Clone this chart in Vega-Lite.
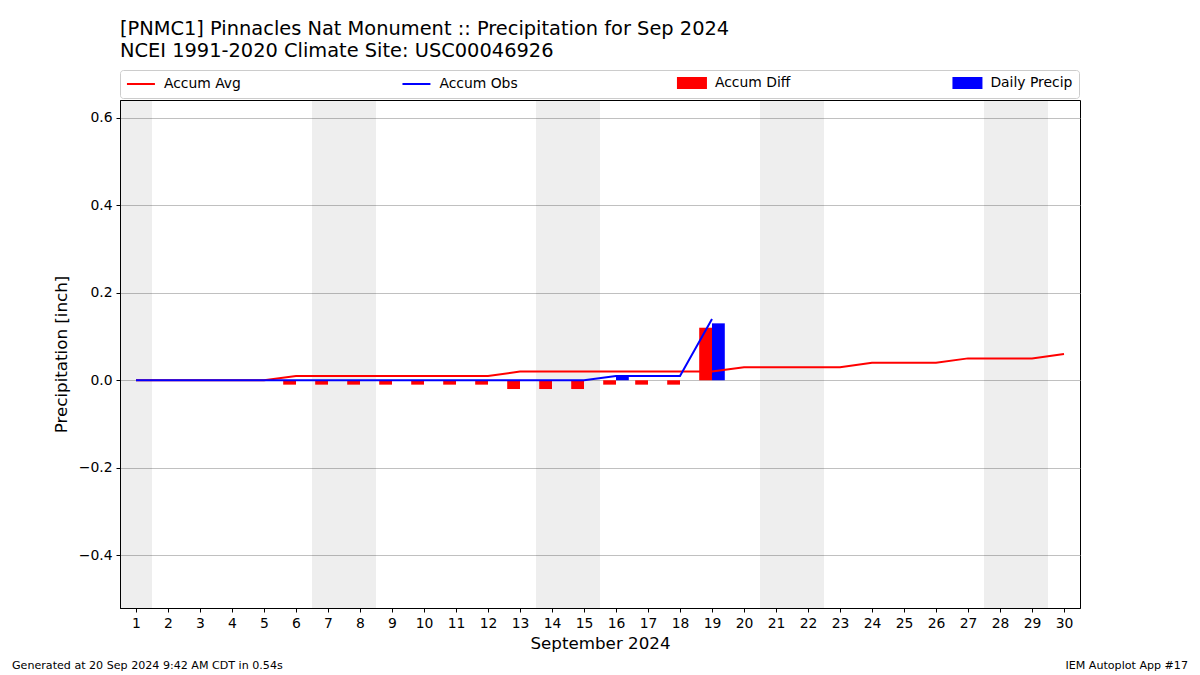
{
  "$schema": "https://vega.github.io/schema/vega-lite/v6.json",
  "width": 960,
  "height": 508,
  "autosize": {"type": "none"},
  "padding": {"left": 120, "top": 100, "right": 120, "bottom": 67},
  "background": "white",
  "config": {
    "font": "DejaVu Sans",
    "view": {"stroke": "black", "strokeWidth": 1},
    "axis": {"labelColor": "black", "titleColor": "black", "domainColor": "black", "tickColor": "black", "tickSize": 4, "labelFontSize": 13.9, "titleFontSize": 16.7, "titleFontWeight": "normal"},
    "axisX": {"labelOverlap": false, "labelFlush": false, "labelBound": false, "grid": false, "labelPadding": 4, "titlePadding": 6}
  },
  "title": {
    "text": ["[PNMC1] Pinnacles Nat Monument :: Precipitation for Sep 2024", "NCEI 1991-2020 Climate Site: USC00046926"],
    "anchor": "start", "frame": "group", "fontSize": 19.4, "fontWeight": "normal", "color": "black", "lineHeight": 22, "offset": 8
  },
  "datasets": {
    "days": [
      {"day": 1, "avg": 0, "obs": 0, "diff": 0, "daily": 0},
      {"day": 2, "avg": 0, "obs": 0, "diff": 0, "daily": 0},
      {"day": 3, "avg": 0, "obs": 0, "diff": 0, "daily": 0},
      {"day": 4, "avg": 0, "obs": 0, "diff": 0, "daily": 0},
      {"day": 5, "avg": 0, "obs": 0, "diff": 0, "daily": 0},
      {"day": 6, "avg": 0.01, "obs": 0, "diff": -0.01, "daily": 0},
      {"day": 7, "avg": 0.01, "obs": 0, "diff": -0.01, "daily": 0},
      {"day": 8, "avg": 0.01, "obs": 0, "diff": -0.01, "daily": 0},
      {"day": 9, "avg": 0.01, "obs": 0, "diff": -0.01, "daily": 0},
      {"day": 10, "avg": 0.01, "obs": 0, "diff": -0.01, "daily": 0},
      {"day": 11, "avg": 0.01, "obs": 0, "diff": -0.01, "daily": 0},
      {"day": 12, "avg": 0.01, "obs": 0, "diff": -0.01, "daily": 0},
      {"day": 13, "avg": 0.02, "obs": 0, "diff": -0.02, "daily": 0},
      {"day": 14, "avg": 0.02, "obs": 0, "diff": -0.02, "daily": 0},
      {"day": 15, "avg": 0.02, "obs": 0, "diff": -0.02, "daily": 0},
      {"day": 16, "avg": 0.02, "obs": 0.01, "diff": -0.01, "daily": 0.01},
      {"day": 17, "avg": 0.02, "obs": 0.01, "diff": -0.01, "daily": 0},
      {"day": 18, "avg": 0.02, "obs": 0.01, "diff": -0.01, "daily": 0},
      {"day": 19, "avg": 0.02, "obs": 0.14, "diff": 0.12, "daily": 0.13},
      {"day": 20, "avg": 0.03, "obs": null, "diff": null, "daily": null},
      {"day": 21, "avg": 0.03, "obs": null, "diff": null, "daily": null},
      {"day": 22, "avg": 0.03, "obs": null, "diff": null, "daily": null},
      {"day": 23, "avg": 0.03, "obs": null, "diff": null, "daily": null},
      {"day": 24, "avg": 0.04, "obs": null, "diff": null, "daily": null},
      {"day": 25, "avg": 0.04, "obs": null, "diff": null, "daily": null},
      {"day": 26, "avg": 0.04, "obs": null, "diff": null, "daily": null},
      {"day": 27, "avg": 0.05, "obs": null, "diff": null, "daily": null},
      {"day": 28, "avg": 0.05, "obs": null, "diff": null, "daily": null},
      {"day": 29, "avg": 0.05, "obs": null, "diff": null, "daily": null},
      {"day": 30, "avg": 0.06, "obs": null, "diff": null, "daily": null}
    ],
    "weekends": [
      {"start": 0.5, "end": 1.5},
      {"start": 6.5, "end": 8.5},
      {"start": 13.5, "end": 15.5},
      {"start": 20.5, "end": 22.5},
      {"start": 27.5, "end": 29.5}
    ],
    "notes": [
      {"note": "Generated at 20 Sep 2024 9:42 AM CDT in 0.54s", "side": "left"},
      {"note": "IEM Autoplot App #17", "side": "right"}
    ]
  },
  "layer": [
    {
      "data": {"name": "weekends"},
      "mark": {"type": "rect", "color": "#000000", "opacity": 0.067},
      "encoding": {
        "x": {"field": "start", "type": "quantitative", "scale": {"domain": [0.5, 30.5], "nice": false, "zero": false, "padding": 0},
          "axis": {"values": [1,2,3,4,5,6,7,8,9,10,11,12,13,14,15,16,17,18,19,20,21,22,23,24,25,26,27,28,29,30], "tickCount": 30, "title": "September 2024", "labelOverlap": false}},
        "x2": {"field": "end"}
      }
    },
    {
      "data": {"name": "days"},
      "transform": [{"filter": "datum.diff != null && datum.diff != 0"}],
      "mark": {"type": "bar", "width": 12.8, "xOffset": -6.4},
      "encoding": {
        "x": {"field": "day", "type": "quantitative", "axis": {"values": [1,2,3,4,5,6,7,8,9,10,11,12,13,14,15,16,17,18,19,20,21,22,23,24,25,26,27,28,29,30], "tickCount": 30, "title": "September 2024", "labelOverlap": false}},
        "y": {"field": "diff", "type": "quantitative", "scale": {"domain": [-0.52, 0.64], "nice": false, "padding": 0},
          "axis": {"values": [-0.4, -0.2, 0, 0.2, 0.4, 0.6], "format": ".1f", "grid": true, "gridColor": "#b0b0b0", "gridWidth": 0.8, "title": "Precipitation [inch]", "labelPadding": 4, "titlePadding": 8}},
        "color": {"datum": "Accum Diff", "type": "nominal",
          "scale": {"domain": ["Accum Avg", "Accum Obs", "Accum Diff", "Daily Precip"], "range": ["#ff0000", "#0000ff", "#ff0000", "#0000ff"]},
          "legend": {
            "title": null, "orient": "none", "legendX": 0, "legendY": -30, "direction": "horizontal", "columns": 4,
            "gridAlign": "all", "columnPadding": 151.5, "padding": 6, "strokeColor": "#cccccc", "cornerRadius": 3, "fillColor": "white",
            "labelFontSize": 13.9, "labelColor": "black", "symbolSize": 100, "labelOffset": 16, "symbolOffset": 8,
            "encode": {
              "symbols": {"update": {
                "shape": {"signal": "datum.value == 'Accum Avg' || datum.value == 'Accum Obs' ? 'M-2.8,0H2.8' : 'M-2.8,-1H2.8V1H-2.8Z'"},
                "fill": {"signal": "datum.value == 'Accum Diff' ? '#ff0000' : datum.value == 'Daily Precip' ? '#0000ff' : 'transparent'"},
                "stroke": {"signal": "datum.value == 'Accum Avg' ? '#ff0000' : datum.value == 'Accum Obs' ? '#0000ff' : 'transparent'"},
                "strokeWidth": {"value": 2},
                "opacity": {"value": 1},
                "fillOpacity": {"value": 1},
                "strokeOpacity": {"value": 1}
              }}
            }
          }}
      }
    },
    {
      "data": {"name": "days"},
      "transform": [{"filter": "datum.daily != null && datum.daily != 0"}],
      "mark": {"type": "bar", "width": 12.8, "xOffset": 6.4},
      "encoding": {
        "x": {"field": "day", "type": "quantitative"},
        "y": {"field": "daily", "type": "quantitative"},
        "color": {"datum": "Daily Precip", "type": "nominal"}
      }
    },
    {
      "data": {"name": "days"},
      "mark": {"type": "line", "strokeWidth": 2},
      "encoding": {
        "x": {"field": "day", "type": "quantitative"},
        "y": {"field": "avg", "type": "quantitative"},
        "color": {"datum": "Accum Avg", "type": "nominal"}
      }
    },
    {
      "data": {"name": "days"},
      "transform": [{"filter": "datum.obs != null"}],
      "mark": {"type": "line", "strokeWidth": 2},
      "encoding": {
        "x": {"field": "day", "type": "quantitative"},
        "y": {"field": "obs", "type": "quantitative"},
        "color": {"datum": "Accum Obs", "type": "nominal"}
      }
    },
    {
      "data": {"name": "notes"},
      "transform": [{"filter": "datum.side == 'left'"}],
      "mark": {"type": "text", "align": "left", "baseline": "middle", "fontSize": 11.1, "color": "black", "clip": false},
      "encoding": {
        "text": {"field": "note"},
        "x": {"value": -108},
        "y": {"value": 566}
      }
    },
    {
      "data": {"name": "notes"},
      "transform": [{"filter": "datum.side == 'right'"}],
      "mark": {"type": "text", "align": "right", "baseline": "middle", "fontSize": 11.1, "color": "black", "clip": false},
      "encoding": {
        "text": {"field": "note"},
        "x": {"value": 1068},
        "y": {"value": 566}
      }
    }
  ]
}
